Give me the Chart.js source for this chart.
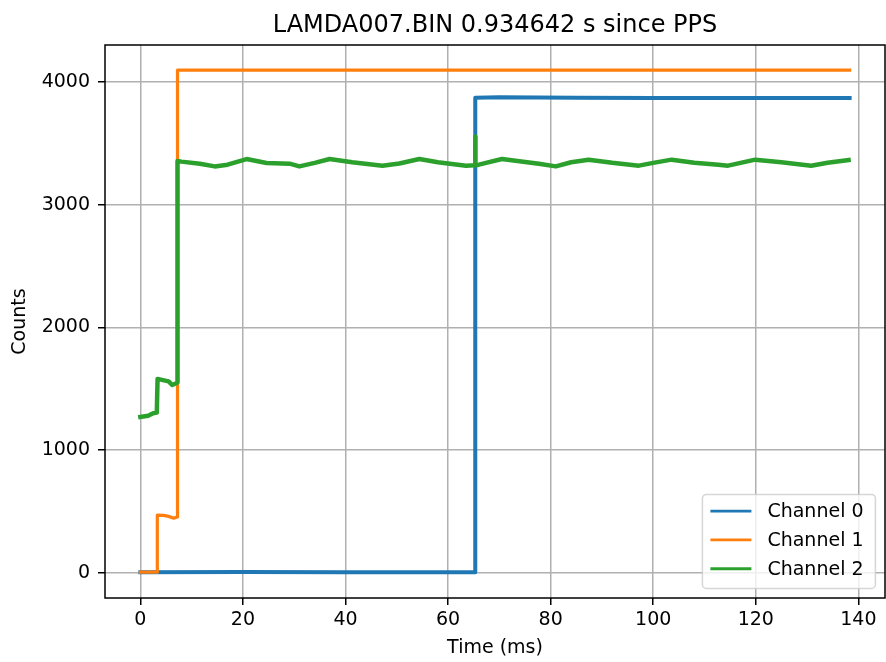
<!DOCTYPE html>
<html>
<head>
<meta charset="utf-8">
<script src="https://cdn.jsdelivr.net/npm/chart.js@4"></script>
<style>
  body { margin: 0; background: #fff; }
  canvas { display: block; }
</style>
</head>
<body>
<canvas id="chart" width="886" height="662"></canvas>
<script>
const chartTitle = 'LAMDA007.BIN 0.934642 s since PPS'
const seriesNames = ['Channel 0', 'Channel 1', 'Channel 2']
const seriesColors = ['#1f77b4', '#ff7f0e', '#2ca02c']
const xTickValues = [0, 20, 40, 60, 80, 100, 120, 140]
const yTickValues = [0, 1000, 2000, 3000, 4000]

// Channel 0
const ch0Time = [0, 20, 40, 65.3, 65.3, 70, 85, 100, 120, 138.3]
const ch0Counts = [5, 6, 5, 5, 3870, 3875, 3870, 3868, 3869, 3868]

// Channel 1
const ch1Time = [0, 3.25, 3.3, 4.5, 5.5, 6.5, 7.15, 7.24, 40, 80, 120, 138.3]
const ch1Counts = [5, 5, 470, 468, 460, 445, 455, 4095, 4095, 4095, 4095, 4095]

// Channel 2
const ch2Time = [0, 1.5, 2.5, 3.2, 3.35, 4.4, 5.5, 6.2, 7.0, 7.18, 7.24, 8, 11.6, 14.5, 17, 20.7, 24.6, 29.1, 31.0,
  34, 36.9, 41.3, 47.2, 50.5, 54.4, 58, 63.5, 65.25, 65.3, 65.35, 66, 70.5, 77.7, 81.0, 84, 87.4, 92, 97.2,
  100, 103.6, 108, 112.7, 114.6, 119.9, 125, 130.8, 134, 138.1]
const ch2Counts = [1270, 1280, 1300, 1305, 1580, 1570, 1560, 1530, 1545, 1550, 3355, 3350, 3333, 3311, 3325, 3371, 3339, 3333, 3311,
  3340, 3371, 3345, 3317, 3335, 3371, 3345, 3317, 3320, 3555, 3320, 3325, 3371, 3333, 3311, 3345, 3366, 3340, 3317,
  3340, 3366, 3340, 3325, 3317, 3366, 3345, 3317, 3340, 3362]

const xMin = -6.9, xMax = 145.2
const yMin = -205, yMax = 4300

function toPoints(t, v) {
  return t.map((x, i) => ({x: x, y: v[i]}))
}

Chart.defaults.font.family = 'DejaVu Sans'
Chart.defaults.color = '#000'

// axes frame, title over the axes and the legend box
const frame = {
  id: 'frame',
  afterDraw(chart) {
    const ctx = chart.ctx
    const ca = chart.chartArea
    ctx.save()
    ctx.strokeStyle = '#000'
    ctx.lineWidth = 1.5
    ctx.strokeRect(ca.left, ca.top, ca.right - ca.left, ca.bottom - ca.top)

    ctx.fillStyle = '#000'
    ctx.font = '24px "DejaVu Sans"'
    ctx.textAlign = 'center'
    ctx.textBaseline = 'alphabetic'
    ctx.fillText(chartTitle, (ca.left + ca.right) / 2, 32)

    const w = 173, h = 94
    const bx = ca.right - 9.6 - w
    const by = ca.bottom - 9.6 - h
    ctx.beginPath()
    ctx.roundRect(bx, by, w, h, 4)
    ctx.fillStyle = 'rgba(255,255,255,0.8)'
    ctx.fill()
    ctx.strokeStyle = 'rgba(204,204,204,0.8)'
    ctx.lineWidth = 1.5
    ctx.stroke()
    ctx.font = '19px "DejaVu Sans"'
    ctx.textBaseline = 'middle'
    ctx.textAlign = 'left'
    seriesNames.forEach((name, i) => {
      const ry = by + 16.7 + i * 28.8
      ctx.beginPath()
      ctx.moveTo(bx + 8, ry)
      ctx.lineTo(bx + 49, ry)
      ctx.strokeStyle = seriesColors[i]
      ctx.lineWidth = 2.9
      ctx.stroke()
      ctx.fillStyle = '#000'
      ctx.fillText(name, bx + 65, ry + 1)
    })
    ctx.restore()
  }
}

const ctx = document.getElementById('chart').getContext('2d')
const myChart = new Chart(ctx, {
  type: 'line',
  data: {
    datasets: [
      {label: seriesNames[0], data: toPoints(ch0Time, ch0Counts), borderColor: seriesColors[0], borderWidth: 4, order: 2},
      {label: seriesNames[1], data: toPoints(ch1Time, ch1Counts), borderColor: seriesColors[1], borderWidth: 3.2, order: 1},
      {label: seriesNames[2], data: toPoints(ch2Time, ch2Counts), borderColor: seriesColors[2], borderWidth: 4.5, order: 0}
    ]
  },
  options: {
    responsive: false,
    animation: false,
    layout: {padding: {left: 0, right: 1, top: 45, bottom: 0}},
    elements: {
      point: {radius: 0},
      line: {tension: 0, borderJoinStyle: 'round', borderCapStyle: 'square', fill: false}
    },
    plugins: {
      legend: {display: false},
      tooltip: {enabled: false},
      title: {display: false}
    },
    scales: {
      x: {
        type: 'linear',
        min: xMin,
        max: xMax,
        afterBuildTicks: s => { s.ticks = xTickValues.map(v => ({value: v})) },
        afterFit: s => { s.height = 64 },
        ticks: {font: {size: 19}, padding: 4, maxRotation: 0, color: '#000', callback: v => String(v)},
        grid: {color: '#b0b0b0', lineWidth: 1.5, tickColor: '#000', tickWidth: 1.5, tickLength: 7},
        border: {display: false},
        title: {display: true, text: 'Time (ms)', font: {size: 19}, padding: {top: 0, bottom: 3}, color: '#000'}
      },
      y: {
        type: 'linear',
        min: yMin,
        max: yMax,
        afterBuildTicks: s => { s.ticks = yTickValues.map(v => ({value: v})) },
        afterFit: s => { s.width = 105 },
        ticks: {font: {size: 19}, padding: 8, color: '#000', callback: v => String(v)},
        grid: {color: '#b0b0b0', lineWidth: 1.5, tickColor: '#000', tickWidth: 1.5, tickLength: 7},
        border: {display: false},
        title: {display: true, text: 'Counts', font: {size: 19}, padding: {top: 9, bottom: 0}, color: '#000'}
      }
    }
  },
  plugins: [frame]
})
</script>
</body>
</html>
